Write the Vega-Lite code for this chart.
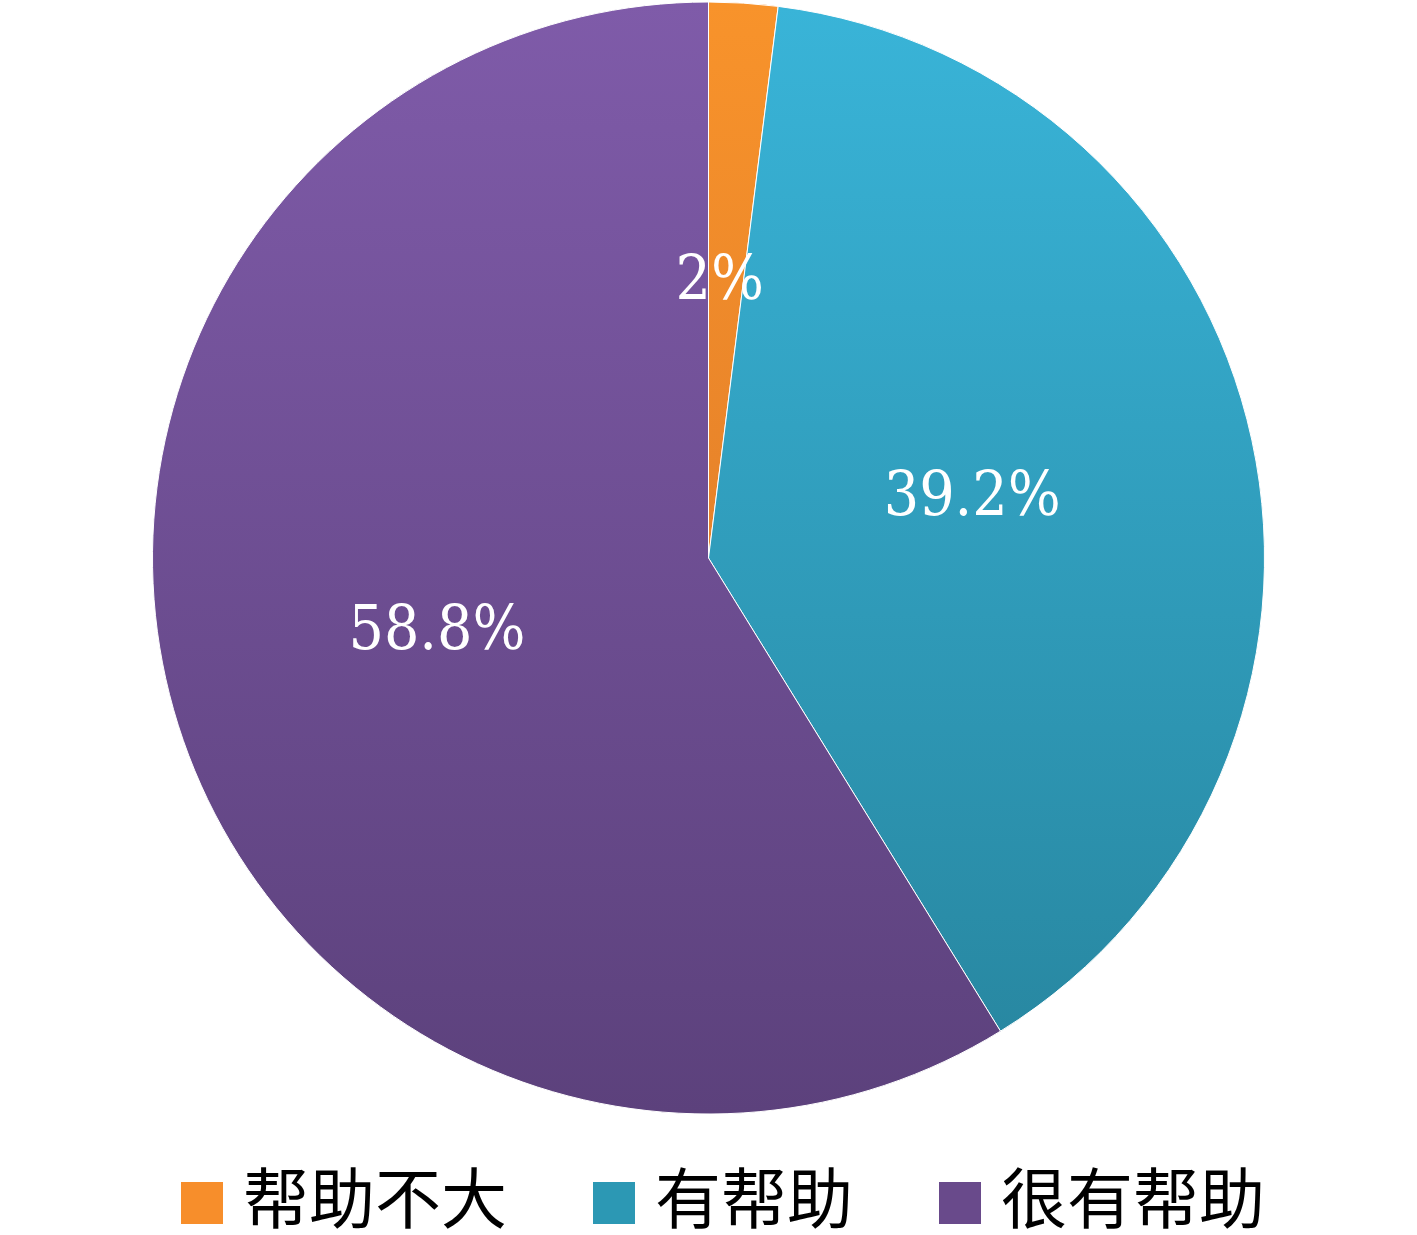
{
  "$schema": "https://vega.github.io/schema/vega-lite/v6.json",
  "width": 1417,
  "height": 1116,
  "padding": {"left": 0, "top": 0, "right": 0, "bottom": 119},
  "autosize": {"type": "none"},
  "background": "white",
  "data": {"values": [
    {"cat": "帮助不大", "value": 2, "label": "2%", "idx": 1},
    {"cat": "有帮助", "value": 39.2, "label": "39.2%", "idx": 2},
    {"cat": "很有帮助", "value": 58.8, "label": "58.8%", "idx": 3}
  ]},
  "encoding": {
    "theta": {"field": "value", "type": "quantitative", "stack": true},
    "order": {"field": "idx", "type": "quantitative"}
  },
  "layer": [
    {
      "mark": {"type": "arc", "outerRadius": 556, "stroke": "#ffffff", "strokeWidth": 1},
      "encoding": {
        "color": {
          "field": "cat", "type": "nominal",
          "scale": {"domain": ["帮助不大", "有帮助", "很有帮助"], "range": ["#F78E2B", "#2C98B4", "#694A8B"]},
          "legend": {
            "orient": "none", "legendX": 169, "legendY": 1170, "direction": "horizontal",
            "title": null, "symbolType": "square", "symbolSize": 1764, "symbolStrokeWidth": 0,
            "labelFont": "Noto Sans CJK SC", "labelFontSize": 66, "labelColor": "#000000",
            "labelOffset": 8, "columnPadding": 74, "labelLimit": 400, "symbolOpacity": 1
          }
        }
      }
    },
    {
      "mark": {"type": "arc", "outerRadius": 556, "stroke": "#ffffff", "strokeWidth": 1},
      "encoding": {
        "fill": {
          "condition": [
            {"test": "datum.idx == 1", "value": {"gradient": "linear", "x1": 0, "y1": 0, "x2": 0, "y2": 1, "stops": [{"offset": 0, "color": "#F8932B"}, {"offset": 1, "color": "#E6822A"}]}},
            {"test": "datum.idx == 2", "value": {"gradient": "linear", "x1": 0, "y1": 0, "x2": 0, "y2": 1, "stops": [{"offset": 0, "color": "#39B4D8"}, {"offset": 1, "color": "#2888A2"}]}}
          ],
          "value": {"gradient": "linear", "x1": 0, "y1": 0, "x2": 0, "y2": 1, "stops": [{"offset": 0, "color": "#7F5BA9"}, {"offset": 1, "color": "#5C417C"}]}
        }
      }
    },
    {
      "mark": {"type": "text", "radius": 276, "font": "DejaVu Serif Condensed", "fontSize": 62, "color": "#ffffff", "align": "center", "baseline": "middle", "dx": -6, "dy": -3},
      "encoding": {"text": {"field": "label", "type": "nominal"}}
    }
  ]
}
